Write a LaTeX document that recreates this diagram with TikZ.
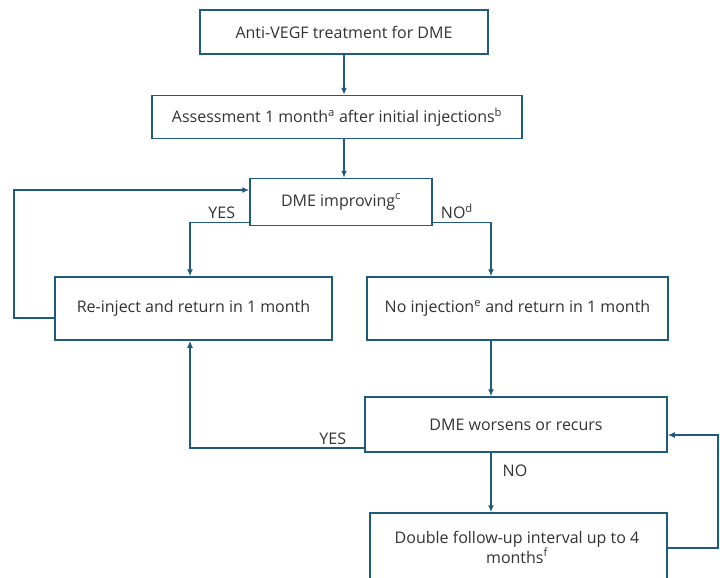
\documentclass[tikz,border=0pt]{standalone}
\usepackage{fontspec}
\setmainfont{Open Sans}
\usetikzlibrary{arrows.meta}

\definecolor{flowblue}{RGB}{31,92,124}

\begin{document}
\begin{tikzpicture}[x=1pt,y=-1pt,
    box/.style={draw=flowblue, line width=1.5pt, text=black!80, font=\fontsize{16}{20}\selectfont, align=center, inner sep=0pt},
    link/.style={draw=flowblue, line width=1.5pt, -{Latex[length=7pt,width=6pt]}},
    answer/.style={text=black!80, font=\fontsize{16}{20}\selectfont, align=center, inner sep=0pt}]
\useasboundingbox[fill=white] (0,0) rectangle (720,578);

% boxes
\node[box, minimum width=288, minimum height=44] (anti) at (344,32) {Anti-VEGF treatment for DME};
\node[box, minimum width=370, minimum height=43] (assess) at (337,117) {Assessment 1 month\textsuperscript{a} after initial injections\textsuperscript{b}};
\node[box, minimum width=182, minimum height=47] (improv) at (341,202) {DME improving\textsuperscript{c}};
\node[box, minimum width=277, minimum height=63] (reinject) at (193.5,308.5) {Re-inject and return in 1 month};
\node[box, minimum width=301, minimum height=63] (noinj) at (517.5,308.5) {No injection\textsuperscript{e} and return in 1 month};
\node[box, minimum width=302, minimum height=55] (worse) at (516,424.5) {DME worsens or recurs};
\node[box, minimum width=297, minimum height=80] (double) at (518.5,553) {};
\node[answer] (doubletext) at (517,547) {Double follow-up interval up to 4\\months\textsuperscript{f}};

% columns and turning points
\coordinate (lcol) at (190,0);
\coordinate (rcol) at (491,0);
\coordinate (lloop) at (14,0);
\coordinate (rloop) at (718,0);

% main line
\draw[link] (anti) -- (anti |- assess.north);
\draw[link] (assess.south -| anti) -- (improv.north -| anti);

% yes / no after improving
\draw[link] ([yshift=4]improv.south west) -| (reinject.north -| lcol);
\draw[link] ([yshift=4]improv.south east) -| (noinj.north -| rcol);
\node[answer, anchor=south east] (yes1) at ([xshift=-14,yshift=7]improv.south west) {YES};
\node[answer, anchor=south west] (no1) at ([xshift=8,yshift=7]improv.south east) {NO\textsuperscript{d}};

% loop back to improving
\coordinate (lloopbot) at (reinject.west |- 0,318);
\coordinate (lloopin) at (improv.west |- 0,190);
\draw[link] (lloopbot) -- (lloopbot -| lloop) -- (lloopin -| lloop) -- (lloopin);

% worsens
\draw[link] (noinj.south -| rcol) -- (worse.north -| rcol);
\draw[link] ([yshift=5]worse.south west) -| (reinject.south -| lcol);
\node[answer, anchor=south east] (yes2) at ([xshift=-18,yshift=8]worse.south west) {YES};
\draw[link] (worse.south -| rcol) -- (double.north -| rcol);
\node[answer] (no2) at (515,471) {NO};

% loop back to worsens
\coordinate (rloopbot) at (double.east |- 0,548);
\coordinate (rloopin) at (worse.east |- 0,435);
\draw[link] (rloopbot) -- (rloopbot -| rloop) -- (rloopin -| rloop) -- (rloopin);
\end{tikzpicture}
\end{document}
